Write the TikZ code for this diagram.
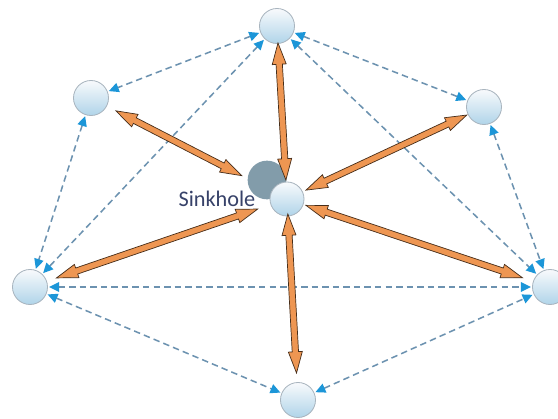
\documentclass[tikz,border=0pt]{standalone}
\usepackage{fontspec}
\newfontfamily\labelfont{Carlito}
\usetikzlibrary{arrows.meta, positioning, calc}
\definecolor{NodeTop}{RGB}{248,250,252}
\definecolor{NodeBot}{RGB}{176,212,233}
\definecolor{NodeRim}{RGB}{168,180,190}
\definecolor{SinkGray}{RGB}{130,156,170}
\definecolor{LinkDash}{RGB}{108,146,176}
\definecolor{LinkTip}{RGB}{28,150,216}
\definecolor{FatFill}{RGB}{238,150,82}
\definecolor{FatRim}{RGB}{70,45,25}
\definecolor{LabelText}{RGB}{55,66,105}

% block arrow with two heads: node #1 (gap #2 px) <-> node #3 (gap #4 px)
\def\hl{0.64cm}
\def\hw{0.21cm}
\def\sw{0.095cm}
\newcommand{\fatarrow}[4]{%
  \coordinate (fa) at ($(#1)!{#2*0.03cm}!(#3)$);
  \coordinate (fb) at ($(#3)!{#4*0.03cm}!(#1)$);
  \filldraw[fat] (fa)
    -- ($(fa)!\hl!(fb)!\hw!90:(fb)$) -- ($(fa)!\hl!(fb)!\sw!90:(fb)$)
    -- ($(fb)!\hl!(fa)!\sw!-90:(fa)$) -- ($(fb)!\hl!(fa)!\hw!-90:(fa)$)
    -- (fb)
    -- ($(fb)!\hl!(fa)!\hw!90:(fa)$) -- ($(fb)!\hl!(fa)!\sw!90:(fa)$)
    -- ($(fa)!\hl!(fb)!\sw!-90:(fb)$) -- ($(fa)!\hl!(fb)!\hw!-90:(fb)$)
    -- cycle;
}

\begin{document}
\begin{tikzpicture}[
    x=0.03cm, y=-0.03cm,
    station/.style={
        circle,
        draw=NodeRim,
        line width=0.7pt,
        top color=NodeTop,
        bottom color=NodeBot,
        minimum size=1.05cm,
        inner sep=0pt
    },
    sinkball/.style={circle, fill=SinkGray, minimum size=1.16cm, inner sep=0pt},
    link/.style={
        draw=LinkDash,
        line width=1.3pt,
        dash pattern=on 5.5pt off 3.5pt,
        {Triangle[length=8.5pt, width=8pt, color=LinkTip]}-{Triangle[length=8.5pt, width=8pt, color=LinkTip]},
        shorten <=1pt, shorten >=1pt
    },
    fat/.style={fill=FatFill, draw=FatRim, line width=0.6pt, line join=miter},
    sinktext/.style={font=\labelfont\fontsize{19}{21}\selectfont, text=LabelText, inner sep=0pt}
]

\fill[white] (0,0) rectangle (558,419);
\useasboundingbox (0,0) rectangle (558,419);

% SINKHOLE
\node[sinkball] (sink) at (267,180) {};
\node[station, minimum size=1.02cm] (ctr) at (287,199) {};
\node[sinktext, left=0.42cm of ctr] (sinklbl) {Sinkhole};

% OUTER NODES
\node[station] (top) at (277,26) {};
\node[station] (ul) at (91,98) {};
\node[station] (ur) at (484,107) {};
\node[station] (lft) at (30,287) {};
\node[station] (rgt) at (550,287) {};
\node[station] (bot) at (298,400) {};

% DASHED LINKS
\draw[link] (top) -- (ul);
\draw[link] (top) -- (ur);
\draw[link] (top) -- (lft);
\draw[link] (top) -- (rgt);
\draw[link] (ul) -- (lft);
\draw[link] (ur) -- (rgt);
\draw[link] (lft) -- (rgt);
\draw[link] (lft) -- (bot);
\draw[link] (bot) -- (rgt);

% BLOCK ARROWS TO THE SINKHOLE
\fatarrow{ul}{28}{ctr}{51}
\fatarrow{top}{17}{ctr}{19}
\fatarrow{ur}{19}{ctr}{21}
\fatarrow{lft}{28}{ctr}{31}
\fatarrow{rgt}{29}{ctr}{20}
\fatarrow{bot}{27}{ctr}{15}

\end{tikzpicture}
\end{document}
